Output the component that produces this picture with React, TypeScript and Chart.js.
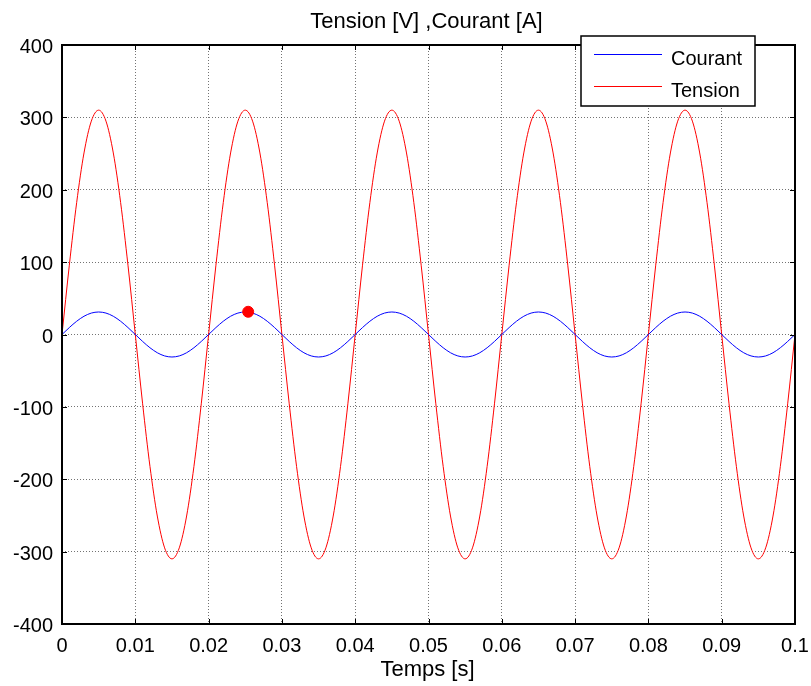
import React, { useEffect, useRef } from "react";
import { Chart, registerables } from "chart.js";

Chart.register(...registerables);

// Time samples [s]
const temps: number[] = [
  0, 0.001, 0.002, 0.003, 0.004, 0.005, 0.006, 0.007, 0.008, 0.009,
  0.01, 0.011, 0.012, 0.013, 0.014, 0.015, 0.016, 0.017, 0.018, 0.019,
  0.02, 0.021, 0.022, 0.023, 0.024, 0.025, 0.026, 0.027, 0.028, 0.029,
  0.03, 0.031, 0.032, 0.033, 0.034, 0.035, 0.036, 0.037, 0.038, 0.039,
  0.04, 0.041, 0.042, 0.043, 0.044, 0.045, 0.046, 0.047, 0.048, 0.049,
  0.05, 0.051, 0.052, 0.053, 0.054, 0.055, 0.056, 0.057, 0.058, 0.059,
  0.06, 0.061, 0.062, 0.063, 0.064, 0.065, 0.066, 0.067, 0.068, 0.069,
  0.07, 0.071, 0.072, 0.073, 0.074, 0.075, 0.076, 0.077, 0.078, 0.079,
  0.08, 0.081, 0.082, 0.083, 0.084, 0.085, 0.086, 0.087, 0.088, 0.089,
  0.09, 0.091, 0.092, 0.093, 0.094, 0.095, 0.096, 0.097, 0.098, 0.099,
  0.1,
];

// Courant [A]
const courant: number[] = [
  0, 9.6, 18.3, 25.2, 29.6, 31.1, 29.6, 25.2, 18.3, 9.6,
  0, -9.6, -18.3, -25.2, -29.6, -31.1, -29.6, -25.2, -18.3, -9.6,
  0, 9.6, 18.3, 25.2, 29.6, 31.1, 29.6, 25.2, 18.3, 9.6,
  0, -9.6, -18.3, -25.2, -29.6, -31.1, -29.6, -25.2, -18.3, -9.6,
  0, 9.6, 18.3, 25.2, 29.6, 31.1, 29.6, 25.2, 18.3, 9.6,
  0, -9.6, -18.3, -25.2, -29.6, -31.1, -29.6, -25.2, -18.3, -9.6,
  0, 9.6, 18.3, 25.2, 29.6, 31.1, 29.6, 25.2, 18.3, 9.6,
  0, -9.6, -18.3, -25.2, -29.6, -31.1, -29.6, -25.2, -18.3, -9.6,
  0, 9.6, 18.3, 25.2, 29.6, 31.1, 29.6, 25.2, 18.3, 9.6,
  0, -9.6, -18.3, -25.2, -29.6, -31.1, -29.6, -25.2, -18.3, -9.6,
  0,
];

// Tension [V]
const tension: number[] = [
  0, 95.8, 182.2, 250.8, 294.8, 310, 294.8, 250.8, 182.2, 95.8,
  0, -95.8, -182.2, -250.8, -294.8, -310, -294.8, -250.8, -182.2, -95.8,
  0, 95.8, 182.2, 250.8, 294.8, 310, 294.8, 250.8, 182.2, 95.8,
  0, -95.8, -182.2, -250.8, -294.8, -310, -294.8, -250.8, -182.2, -95.8,
  0, 95.8, 182.2, 250.8, 294.8, 310, 294.8, 250.8, 182.2, 95.8,
  0, -95.8, -182.2, -250.8, -294.8, -310, -294.8, -250.8, -182.2, -95.8,
  0, 95.8, 182.2, 250.8, 294.8, 310, 294.8, 250.8, 182.2, 95.8,
  0, -95.8, -182.2, -250.8, -294.8, -310, -294.8, -250.8, -182.2, -95.8,
  0, 95.8, 182.2, 250.8, 294.8, 310, 294.8, 250.8, 182.2, 95.8,
  0, -95.8, -182.2, -250.8, -294.8, -310, -294.8, -250.8, -182.2, -95.8,
  0,
];

// Marked point
const markerX: number[] = [0.0254];
const markerY: number[] = [31.4];

const xTicks: number[] = [0, 0.01, 0.02, 0.03, 0.04, 0.05, 0.06, 0.07, 0.08, 0.09, 0.1];
const xTickLabels: string[] = ["0", "0.01", "0.02", "0.03", "0.04", "0.05", "0.06", "0.07", "0.08", "0.09", "0.1"];
const yTicks: number[] = [-400, -300, -200, -100, 0, 100, 200, 300, 400];
const yTickLabels: string[] = ["-400", "-300", "-200", "-100", "0", "100", "200", "300", "400"];

const titleText = "Tension [V] ,Courant [A]";
const xLabelText = "Temps [s]";
const seriesNames: string[] = ["Courant", "Tension"];
const seriesColors: string[] = ["#0000ff", "#ff0000"];

const FONT = '"Liberation Sans", Arial, Helvetica, sans-serif';

const matlabPlugin = {
  id: "matlabDecor",
  afterDraw(chart: any) {
    const ctx = chart.ctx as CanvasRenderingContext2D;
    const area = chart.chartArea;
    const xs = chart.scales.x;
    const ys = chart.scales.y;
    ctx.save();

    // Tick marks (inward)
    ctx.strokeStyle = "#000";
    ctx.lineWidth = 1;
    const tl = 5;
    ctx.beginPath();
    xTicks.forEach((v) => {
      const px = Math.round(xs.getPixelForValue(v)) + 0.5;
      ctx.moveTo(px, area.bottom);
      ctx.lineTo(px, area.bottom - tl);
      ctx.moveTo(px, area.top);
      ctx.lineTo(px, area.top + tl);
    });
    yTicks.forEach((v) => {
      const py = Math.round(ys.getPixelForValue(v)) + 0.5;
      ctx.moveTo(area.left, py);
      ctx.lineTo(area.left + tl, py);
      ctx.moveTo(area.right, py);
      ctx.lineTo(area.right - tl, py);
    });
    ctx.stroke();

    // Frame
    ctx.lineWidth = 2;
    ctx.strokeStyle = "#000";
    ctx.strokeRect(area.left, area.top, area.right - area.left, area.bottom - area.top);

    // Tick labels
    ctx.fillStyle = "#000";
    ctx.font = `20px ${FONT}`;
    ctx.textAlign = "center";
    ctx.textBaseline = "alphabetic";
    xTicks.forEach((v, i) => {
      ctx.fillText(xTickLabels[i], xs.getPixelForValue(v), area.bottom + 28);
    });
    ctx.textAlign = "right";
    yTicks.forEach((v, i) => {
      ctx.fillText(yTickLabels[i], area.left - 9, ys.getPixelForValue(v) + 8);
    });

    // Title and x label
    const cx = (area.left + area.right) / 2;
    ctx.font = `22px ${FONT}`;
    ctx.textAlign = "center";
    ctx.fillText(titleText, cx - 2, 28);
    ctx.fillText(xLabelText, cx - 1, 676);

    // Legend box
    const bx = 581, by = 36, bw = 174, bh = 70;
    ctx.fillStyle = "#fff";
    ctx.fillRect(bx, by, bw, bh);
    ctx.lineWidth = 1.5;
    ctx.strokeStyle = "#000";
    ctx.strokeRect(bx, by, bw, bh);
    const rows = [54, 86];
    ctx.font = `20px ${FONT}`;
    ctx.textAlign = "left";
    seriesNames.forEach((name, i) => {
      ctx.strokeStyle = seriesColors[i];
      ctx.lineWidth = 1;
      ctx.beginPath();
      ctx.moveTo(594, rows[i] + 0.5);
      ctx.lineTo(662, rows[i] + 0.5);
      ctx.stroke();
      ctx.fillStyle = "#000";
      ctx.fillText(name, 671, rows[i] + 10.5);
    });

    ctx.restore();
  },
};

export default function App() {
  const ref = useRef<HTMLCanvasElement | null>(null);

  useEffect(() => {
    if (!ref.current) return;
    const gridOpts = { color: "rgba(0,0,0,0.55)", lineWidth: 1, drawTicks: false };
    const chart = new Chart(ref.current, {
      type: "line",
      data: {
        datasets: [
          {
            label: "marker",
            data: markerX.map((x, i) => ({ x, y: markerY[i] })),
            showLine: false,
            pointRadius: 5.5,
            pointBackgroundColor: "#ff0000",
            pointBorderColor: "#ff0000",
            borderColor: "#ff0000",
            order: 0,
          },
          {
            label: seriesNames[0],
            data: temps.map((x, i) => ({ x, y: courant[i] })),
            borderColor: seriesColors[0],
            borderWidth: 1,
            pointRadius: 0,
            cubicInterpolationMode: "monotone",
            order: 1,
          },
          {
            label: seriesNames[1],
            data: temps.map((x, i) => ({ x, y: tension[i] })),
            borderColor: seriesColors[1],
            borderWidth: 1,
            pointRadius: 0,
            cubicInterpolationMode: "monotone",
            order: 2,
          },
        ],
      },
      options: {
        responsive: false,
        animation: false,
        devicePixelRatio: 1,
        layout: { padding: { top: 45, right: 16, left: 0, bottom: 0 } },
        plugins: {
          legend: { display: false },
          title: { display: false },
          tooltip: { enabled: false },
        },
        events: [],
        scales: {
          x: {
            type: "linear",
            min: 0,
            max: 0.1,
            ticks: { display: false, stepSize: 0.01 },
            grid: gridOpts,
            border: { display: false, dash: [1, 2] },
            afterFit: (s: any) => {
              s.height = 62;
              s.paddingLeft = 0;
              s.paddingRight = 0;
            },
          },
          y: {
            type: "linear",
            min: -400,
            max: 400,
            ticks: { display: false, stepSize: 100 },
            grid: gridOpts,
            border: { display: false, dash: [1, 2] },
            afterFit: (s: any) => {
              s.width = 62;
              s.paddingTop = 0;
              s.paddingBottom = 0;
            },
          },
        },
      } as any,
      plugins: [matlabPlugin],
    });
    return () => chart.destroy();
  }, []);

  return (
    <div style={{ position: "absolute", left: 0, top: 0, width: 811, height: 686, background: "#fff" }}>
      <canvas ref={ref} width={811} height={686} style={{ width: 811, height: 686, display: "block" }} />
    </div>
  );
}
